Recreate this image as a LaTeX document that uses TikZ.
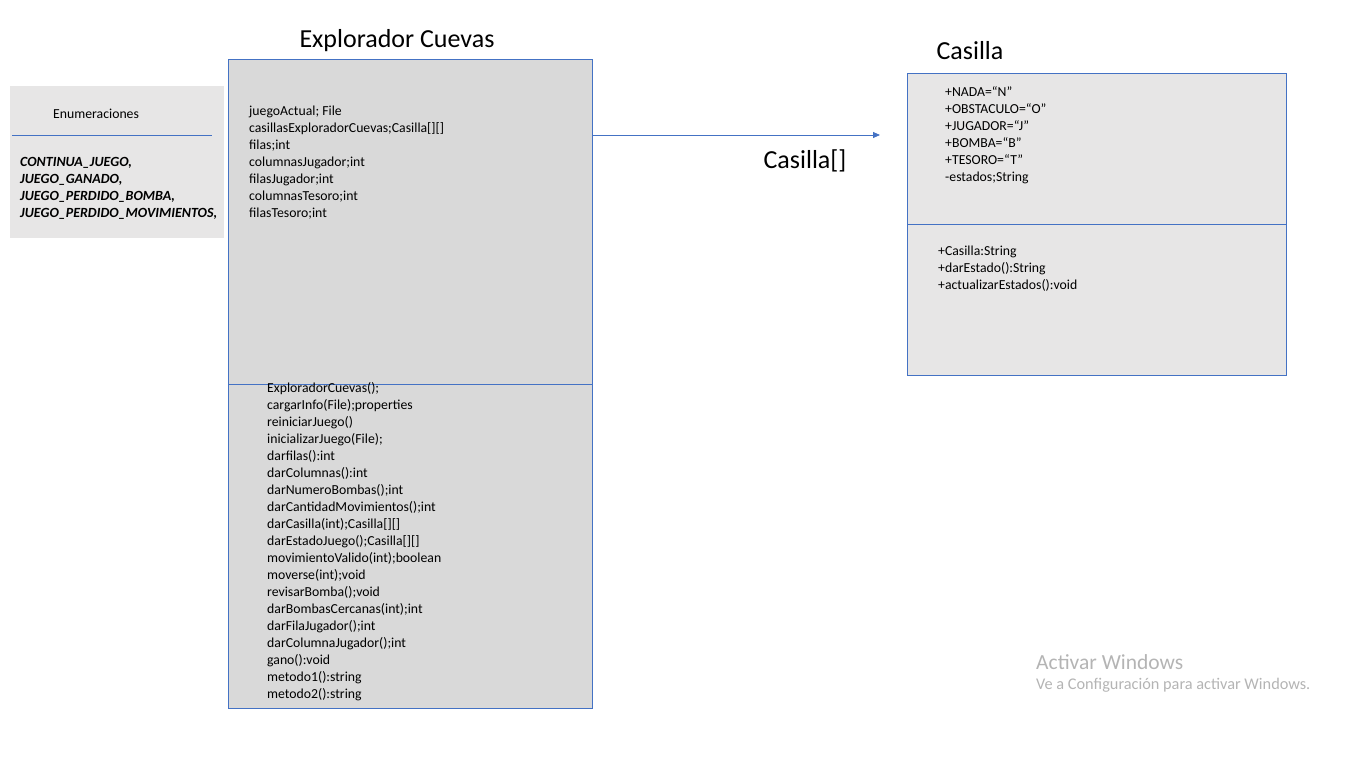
\documentclass[tikz,border=0pt]{standalone}
\usepackage{fontspec}
\setmainfont{Carlito}
\usetikzlibrary{arrows.meta}
\definecolor{umlblue}{HTML}{4472C4}
\definecolor{boxgray}{HTML}{D9D9D9}
\definecolor{lightbox}{HTML}{E7E6E6}
\definecolor{wm}{HTML}{B4B4B4}
\tikzset{
  classbox/.style={draw=umlblue, line width=0.8pt, inner sep=0pt},
  txt/.style={anchor=west, inner sep=0pt, align=left, font=\fontsize{13.75}{17}\selectfont},
  title/.style={inner sep=0pt, font=\fontsize{26}{30}\selectfont},
  divider/.style={draw=umlblue, line width=0.8pt},
}
\begin{document}
\begin{tikzpicture}[x=1pt,y=-1pt]
\useasboundingbox (0,0) rectangle (1366,768);
% Enumeraciones
\path[fill=lightbox] (10,86) rectangle (224,238);
\node[txt] (enumt) at (53,114) {Enumeraciones};
\draw[divider] (12,135) -- (212,135);
\node[txt, anchor=north west, font=\fontsize{14}{17}\selectfont\bfseries\itshape] (enumv) at (20,157) {CONTINUA\_JUEGO,\\JUEGO\_GANADO,\\JUEGO\_PERDIDO\_BOMBA,\\JUEGO\_PERDIDO\_MOVIMIENTOS,};
% Explorador Cuevas
\node[classbox, fill=boxgray, minimum width=364pt, minimum height=649pt, anchor=north west] (main) at (228,59) {};
\draw[divider] (228,384) -- (592,384);
\node[title] (maint) at (397,41) {Explorador Cuevas};
\node[txt, anchor=north west] (mainf) at (249,106) {juegoActual; File\\casillasExploradorCuevas;Casilla[][]\\filas;int\\columnasJugador;int\\filasJugador;int\\columnasTesoro;int\\filasTesoro;int};
\node[txt, anchor=north west] (mainm) at (267,382) {ExploradorCuevas();\\cargarInfo(File);properties\\reiniciarJuego()\\inicializarJuego(File);\\darfilas():int\\darColumnas():int\\darNumeroBombas();int\\darCantidadMovimientos();int\\darCasilla(int);Casilla[][]\\darEstadoJuego();Casilla[][]\\movimientoValido(int);boolean\\moverse(int);void\\revisarBomba();void\\darBombasCercanas(int);int\\darFilaJugador();int\\darColumnaJugador();int\\gano():void\\metodo1():string\\metodo2():string};
% Casilla
\node[classbox, fill=lightbox, minimum width=379pt, minimum height=302pt, anchor=north west] (cas) at (907,73) {};
\draw[divider] (907,224) -- (1286,224);
\node[title] (cast) at (970,51) {Casilla};
\node[txt, anchor=north west] (casf) at (945,86) {+NADA=“N”\\+OBSTACULO=“O”\\+JUGADOR=“J”\\+BOMBA=“B”\\+TESORO=“T”\\-estados;String};
\node[txt, anchor=north west] (casm) at (938,246) {+Casilla:String\\+darEstado():String\\+actualizarEstados():void};
% association arrow
\coordinate (arrend) at (880,135);
\draw[umlblue, line width=0.8pt, -{Triangle[length=7pt,width=6pt]}] (main.east |- arrend) -- (arrend);
\node[title] (arrl) at (805,161) {Casilla[]};
% watermark
\node[anchor=west, inner sep=0pt, text=wm, font=\fontsize{21.5}{24}\selectfont] (wm1) at (1036,662) {Activar Windows};
\node[anchor=west, inner sep=0pt, text=wm, font=\fontsize{16.3}{19}\selectfont] (wm2) at (1036,685) {Ve a Configuración para activar Windows.};
\end{tikzpicture}
\end{document}
